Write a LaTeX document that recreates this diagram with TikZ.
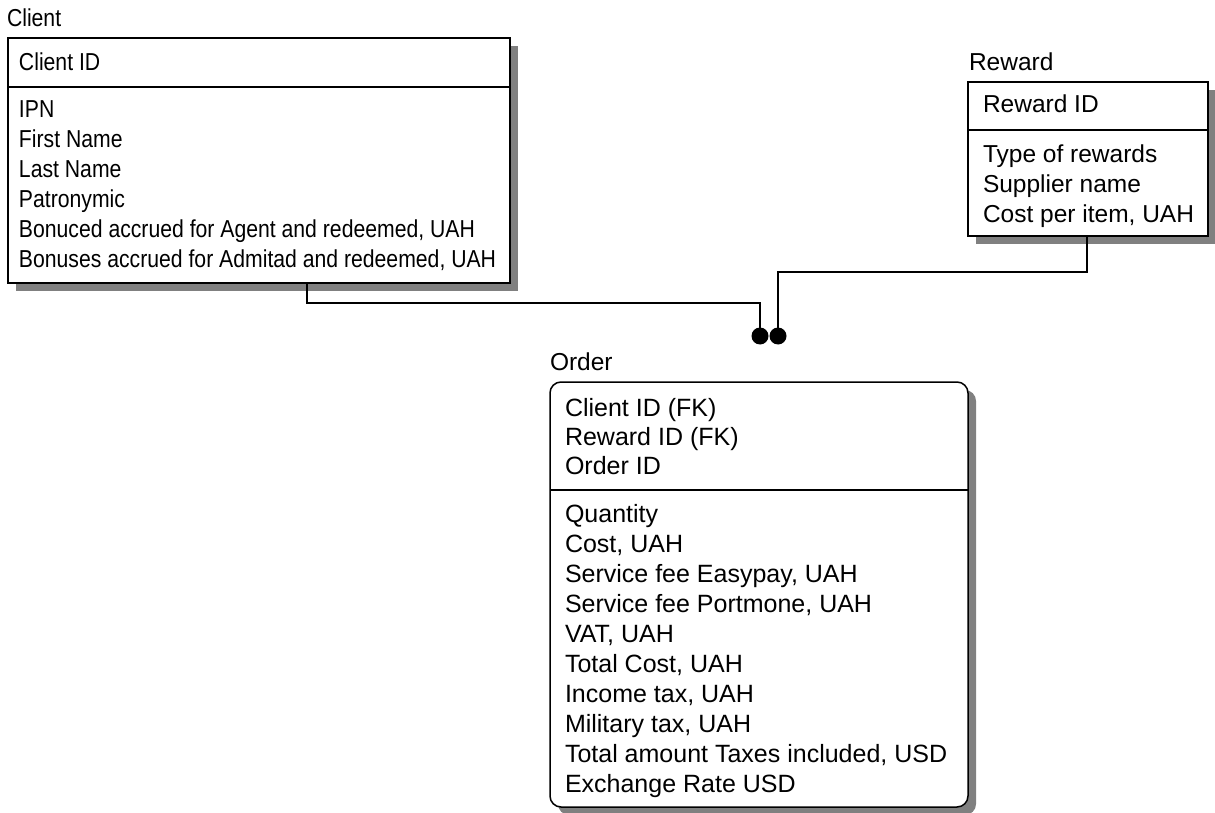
\documentclass[tikz,border=0pt]{standalone}
\usepackage{fontspec}
\setmainfont{Liberation Sans}
\newcommand\squeezed[1]{\scalebox{0.865}[1]{#1}}
\begin{document}
\begin{tikzpicture}[x=1pt,y=-1pt,
  every node/.style={inner sep=0pt,outer sep=0pt},
  lbl/.style={anchor=base west,font=\fontsize{24.5}{29}\selectfont},
  olbl/.style={anchor=base west,font=\fontsize{25}{30}\selectfont},
  entity/.style={draw=black,line width=1.5pt,fill=white,anchor=north west,rectangle},
  shadowbox/.style={fill=black!50,draw=none},
  link/.style={draw=black,line width=1.4pt},
  blob/.style={circle,fill=black,minimum size=17pt}
]
\useasboundingbox (0,0) rectangle (1215,813);
% shadows
\fill[shadowbox] (16,46) rectangle (518,291);
\fill[shadowbox] (976,90) rectangle (1216,244);
\fill[shadowbox,rounded corners=11pt] (558,390) rectangle (976,815);
% entity boxes
\node[entity,minimum width=502pt,minimum height=245pt] (client) at (8,38) {};
\draw[line width=1.5pt] (client.west |- 0,87) -- (client.east |- 0,87);
\node[entity,minimum width=240pt,minimum height=154pt] (reward) at (968,82) {};
\draw[line width=1.5pt] (reward.west |- 0,130) -- (reward.east |- 0,130);
\node[entity,rounded corners=11pt,minimum width=418pt,minimum height=425pt] (order) at (550,382) {};
\draw[line width=1.5pt] (order.west |- 0,490) -- (order.east |- 0,490);
% titles
\node[lbl] (tclient) at (7,27) {\squeezed{Client}};
\node[lbl] (treward) at (969,71) {Reward};
\node[lbl] (torder) at (550,370) {Order};
% client attributes
\node[lbl] (cpk) at (19,71) {\squeezed{Client ID}};
\foreach \t [count=\i] in {IPN,First Name,Last Name,Patronymic,{Bonuced accrued for Agent and redeemed, UAH},{Bonuses accrued for Admitad and redeemed, UAH}}
  \node[lbl] (ca\i) at (19,{118+(\i-1)*29.8}) {\squeezed{\t}};
% reward attributes
\node[lbl] (rpk) at (983,113) {Reward ID};
\foreach \t [count=\i] in {Type of rewards,Supplier name,{Cost per item, UAH}}
  \node[lbl] (ra\i) at (983,{162.5+(\i-1)*29.8}) {\t};
% order keys
\foreach \t [count=\i] in {Client ID (FK),Reward ID (FK),Order ID}
  \node[olbl] (ok\i) at (565,{416+(\i-1)*29}) {\t};
\foreach \t [count=\i] in {Quantity,{Cost, UAH},{Service fee Easypay, UAH},{Service fee Portmone, UAH},{VAT, UAH},{Total Cost, UAH},{Income tax, UAH},{Military tax, UAH},{Total amount Taxes included, USD},{Exchange Rate USD}}
  \node[olbl] (oa\i) at (565,{522+(\i-1)*30}) {\t};
% relationship ends
\node[blob] (dotA) at (760,336) {};
\node[blob] (dotB) at (778,336) {};
\coordinate (cl) at (307,283);
\coordinate (rl) at (1087,236);
\draw[link] (cl) -- ++(0,20) -| (dotA.center);
\draw[link] (rl) -- ++(0,36) -| (dotB.center);
\end{tikzpicture}
\end{document}
